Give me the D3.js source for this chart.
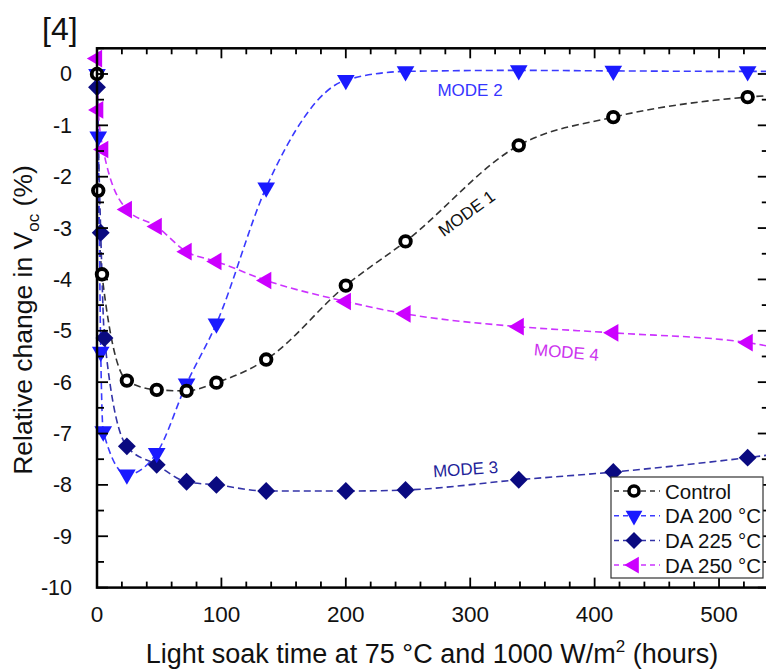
<!DOCTYPE html>
<html>
<head>
<meta charset="utf-8">
<script src="https://cdn.jsdelivr.net/npm/d3@7"></script>
<style>
  body { margin: 0; background: #fff; }
  text { font-family: "Liberation Sans", Arial, sans-serif; }
</style>
</head>
<body>
<svg width="766" height="671"></svg>
<script>
var svg = d3.select("svg"),
  width = +svg.attr("width"),
  height = +svg.attr("height");

// light soak time (hours) and relative Voc change (%)
var controlT = [0, 1, 4, 24, 48, 72, 96, 136, 200, 248, 339, 415, 523];
var controlV = [0, -2.27, -3.9, -5.97, -6.15, -6.17, -6.01, -5.56, -4.12, -3.26, -1.39, -0.84, -0.45];

var da200T = [0, 1, 3, 5, 24, 48, 72, 96, 136, 200, 248, 339, 415, 523];
var da200V = [0, -1.22, -5.41, -6.96, -7.8, -7.38, -6.03, -4.86, -2.21, -0.12, 0.05, 0.07, 0.06, 0.05];

var da225T = [0, 3, 6, 24, 48, 72, 96, 136, 200, 248, 339, 415, 523];
var da225V = [-0.26, -3.09, -5.14, -7.25, -7.61, -7.94, -8.0, -8.12, -8.12, -8.1, -7.9, -7.75, -7.47];

var da250T = [0, 1, 5, 24, 48, 72, 96, 136, 200, 248, 339, 415, 523];
var da250V = [0.3, -0.7, -1.47, -2.64, -2.97, -3.46, -3.65, -4.02, -4.43, -4.67, -4.92, -5.04, -5.23];

// where each fitted dashed line leaves the right edge
var fitEndT = 540;
var fitEndV = [-0.42, 0.05, -7.42, -5.3];

var seriesNames = ["Control", "DA 200 °C", "DA 225 °C", "DA 250 °C"];
var xTicks = [0, 100, 200, 300, 400, 500];
var yTicks = [0, -1, -2, -3, -4, -5, -6, -7, -8, -9, -10];

var series = [
  { name: seriesNames[0], t: controlT, v: controlV, line: "#333", fill: "#fff", stroke: "#000", shape: "circle" },
  { name: seriesNames[1], t: da200T, v: da200V, line: "#3a3aff", fill: "#1a1aff", stroke: "#1a1aff", shape: "down" },
  { name: seriesNames[2], t: da225T, v: da225V, line: "#3333a8", fill: "#0a0a80", stroke: "#0a0a80", shape: "diamond" },
  { name: seriesNames[3], t: da250T, v: da250V, line: "#cc33ff", fill: "#cc00ff", stroke: "#cc00ff", shape: "left" }
];

var pL = 97, pR = 768.8, pT = 48.3, pB = 587.6;

var x = d3.scaleLinear().domain([0, 540]).range([pL, pR]);
var y = d3.scaleLinear().domain([-10, 0.5]).range([pB, pT]);

svg.append("defs").append("clipPath").attr("id", "plot")
  .append("rect")
  .attr("x", pL).attr("y", pT)
  .attr("width", pR - pL).attr("height", pB - pT);

// fitted dashed lines
var line = d3.line()
  .x(function(d) { return x(d[0]); })
  .y(function(d) { return y(d[1]); })
  .curve(d3.curveMonotoneX);

var plot = svg.append("g").attr("clip-path", "url(#plot)");

series.forEach(function(s, i) {
  var pts = s.t.map(function(t, j) { return [t, s.v[j]]; });
  pts.push([fitEndT, fitEndV[i]]);
  plot.append("path")
    .datum(pts)
    .attr("fill", "none")
    .attr("stroke", s.line)
    .attr("stroke-width", 1.6)
    .attr("stroke-dasharray", "7,4")
    .attr("d", line);
});

function marker(sel, s, k) {
  k = k || 1;
  if (s.shape == "circle") {
    sel.append("circle").attr("r", 5.3 * k)
      .attr("fill", s.fill).attr("stroke", s.stroke).attr("stroke-width", 3.8 * k);
  } else if (s.shape == "down") {
    sel.append("path").attr("d", d3.symbol(d3.symbolTriangle, 135 * k * k)())
      .attr("transform", "rotate(180)")
      .attr("fill", s.fill);
  } else if (s.shape == "left") {
    sel.append("path").attr("d", d3.symbol(d3.symbolTriangle, 135 * k * k)())
      .attr("transform", "rotate(-90)")
      .attr("fill", s.fill);
  } else {
    sel.append("path").attr("d", d3.symbol(d3.symbolSquare, 160 * k * k)())
      .attr("transform", "rotate(45)")
      .attr("fill", s.fill);
  }
}

// markers: draw in reverse so control sits on top
series.slice().reverse().forEach(function(s) {
  s.t.forEach(function(t, j) {
    var g = svg.append("g")
      .attr("transform", "translate(" + x(t) + "," + y(s.v[j]) + ")");
    marker(g, s);
  });
});

// axes frame with inward ticks
var axes = svg.append("g").attr("stroke", "#000");

d3.range(0, 541, 20).forEach(function(t) {
  var len = (t % 100 == 0) ? 10 : 6;
  axes.append("line").attr("x1", x(t)).attr("x2", x(t))
    .attr("y1", pB).attr("y2", pB - len).attr("stroke-width", 1.8);
  axes.append("line").attr("x1", x(t)).attr("x2", x(t))
    .attr("y1", pT).attr("y2", pT + len).attr("stroke-width", 1.8);
});

d3.range(-10, 0.51, 0.5).forEach(function(v) {
  var len = (Math.abs(v % 1) < 0.01) ? 11 : 7;
  axes.append("line").attr("x1", pL).attr("x2", pL + len)
    .attr("y1", y(v)).attr("y2", y(v)).attr("stroke-width", 1.8);
  axes.append("line").attr("x1", pR).attr("x2", pR - len)
    .attr("y1", y(v)).attr("y2", y(v)).attr("stroke-width", 1.8);
});

axes.append("rect")
  .attr("x", pL).attr("y", pT)
  .attr("width", pR - pL).attr("height", pB - pT)
  .attr("fill", "none").attr("stroke-width", 2.5);

// tick labels
svg.append("g").selectAll("text")
  .data(xTicks)
  .enter().append("text")
  .attr("x", function(d) { return x(d); })
  .attr("y", pB + 34)
  .attr("text-anchor", "middle")
  .attr("font-size", 22.5)
  .attr("fill", "#111")
  .text(function(d) { return d; });

svg.append("g").selectAll("text")
  .data(yTicks)
  .enter().append("text")
  .attr("x", 72)
  .attr("y", function(d) { return y(d) + 7.5; })
  .attr("text-anchor", "end")
  .attr("font-size", 21.5)
  .attr("fill", "#111")
  .text(function(d) { return d; });

// axis titles
var xt = svg.append("text")
  .attr("x", 432).attr("y", 663)
  .attr("text-anchor", "middle")
  .attr("font-size", 27)
  .attr("fill", "#111");
xt.append("tspan").text("Light soak time at 75 °C and 1000 W/m");
xt.append("tspan").attr("font-size", 17).attr("dy", -11).text("2");
xt.append("tspan").attr("dy", 11).text(" (hours)");

var yt = svg.append("text")
  .attr("transform", "translate(32," + 320 + ") rotate(-90)")
  .attr("text-anchor", "middle")
  .attr("font-size", 26.5)
  .attr("fill", "#111");
yt.append("tspan").text("Relative change in V");
yt.append("tspan").attr("font-size", 17).attr("dy", 7).text("oc");
yt.append("tspan").attr("dy", -7).text(" (%)");

svg.append("text")
  .attr("x", 42).attr("y", 40)
  .attr("font-size", 32)
  .attr("fill", "#111")
  .text("[4]");

// mode annotations
var modes = [
  { text: "MODE 2", x: 470, y: 96, rot: 0, color: "#3535ff" },
  { text: "MODE 1", x: 470, y: 218, rot: -36, color: "#111" },
  { text: "MODE 4", x: 566, y: 358, rot: 5, color: "#cc33ee" },
  { text: "MODE 3", x: 466, y: 475, rot: -4, color: "#1f1f9a" }
];
modes.forEach(function(m) {
  svg.append("text")
    .attr("transform", "translate(" + m.x + "," + m.y + ") rotate(" + m.rot + ")")
    .attr("text-anchor", "middle")
    .attr("font-size", 17)
    .attr("fill", m.color)
    .text(m.text);
});

// legend
var lg = svg.append("g");
lg.append("rect")
  .attr("x", 611).attr("y", 477)
  .attr("width", 152).attr("height", 101)
  .attr("fill", "#fff").attr("stroke", "#333").attr("stroke-width", 1.2);

series.forEach(function(s, i) {
  var ly = 491 + i * 24.7;
  lg.append("line")
    .attr("x1", 614).attr("x2", 660)
    .attr("y1", ly).attr("y2", ly)
    .attr("stroke", s.line).attr("stroke-width", 1.5)
    .attr("stroke-dasharray", "5,4");
  var g = lg.append("g").attr("transform", "translate(634," + ly + ")");
  marker(g, s, 0.95);
  lg.append("text")
    .attr("x", 665).attr("y", ly + 7.5)
    .attr("font-size", 20.5)
    .attr("fill", "#111")
    .text(s.name);
});
</script>
</body>
</html>
